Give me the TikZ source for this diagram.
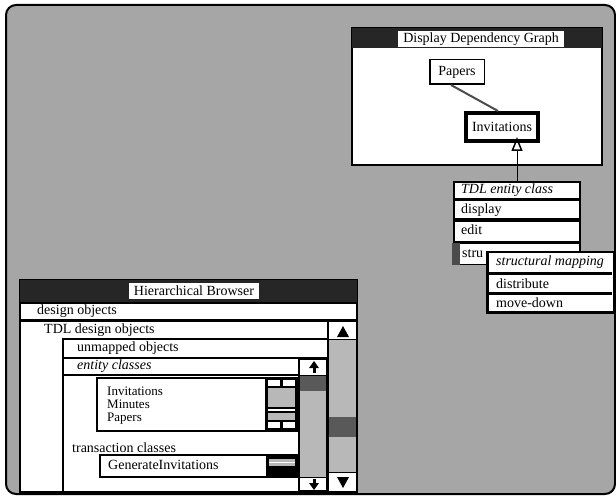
\documentclass[tikz,border=0pt]{standalone}
\usepackage{fontspec}
\setmainfont{Liberation Serif}
\usetikzlibrary{arrows.meta}
\begin{document}
\begin{tikzpicture}[x=1pt,y=-1pt,
  fnt/.style={font=\fontsize{14}{16}\selectfont},
  lbl/.style={fnt,anchor=west,inner sep=0pt},
  ilbl/.style={lbl,font=\fontsize{14}{16}\selectfont\itshape},
  slbl/.style={anchor=west,inner sep=0pt,font=\fontsize{13}{14}\selectfont,text height=8.5pt,text depth=2.5pt},
  frame/.style={draw=black,line width=2pt,fill=white},
  thin/.style={draw=black,line width=1.5pt,fill=white},
  bar/.style={fill=black!85},
  track/.style={fill=black!28},
  thumb/.style={fill=black!65},
  sep/.style={draw=black,line width=3.5pt},
  ttl/.style={fill=white,fnt,inner xsep=5pt,inner ysep=1pt,minimum height=16pt},
]
\useasboundingbox (0,0) rectangle (616,497);
\fill[white] (0,0) rectangle (616,497);
\draw[line width=2pt, fill=black!35, rounded corners=10pt] (6,5) rectangle (615,494);

% ---------- Dependency graph window ----------
\draw[frame] (352,28) rectangle (602,165);
\fill[bar] (352,28) rectangle (602,48);
\node[ttl] (ddgtitle) at (481,39.5) {Display Dependency Graph};
\node[draw,line width=1.5pt,fill=white,fnt,minimum width=54.5pt,minimum height=24.5pt,inner sep=2pt] (papers) at (457,72) {Papers};
\node[draw,line width=4pt,fill=white,fnt,minimum width=72pt,minimum height=28pt,inner sep=2pt] (inv) at (502,127) {Invitations};
\draw[line width=2pt,black!70] ([xshift=-6pt]papers.south) -- ([xshift=-4pt]inv.north);

% ---------- TDL entity class menu ----------
\node[frame,anchor=north west,minimum width=126pt,minimum height=60pt,inner sep=0pt] (tdlmenu) at (453,181) {};
\draw[sep] (453,199.5) -- (579,199.5);
\draw[sep] (453,220) -- (579,220);
\node[ilbl] (tdl) at (461,190) {TDL entity class};
\node[lbl] (disp) at (461,210) {display};
\node[lbl] (edit) at (461,230) {edit};
\draw[-{Triangle[open,length=14pt,width=11pt,line width=1.5pt]},line width=1pt,shorten >=-6pt] (tdlmenu.north) -- (tdlmenu.north |- inv.south);

\node[thin,anchor=north west,minimum width=127pt,minimum height=21pt,inner sep=0pt] (strurow) at (452,243) {};
\fill[black!70] (452,243) rectangle (460,265);
\node[lbl] (stru) at (462,254) {stru};

% ---------- submenu ----------
\node[draw=black,line width=2.5pt,fill=white,anchor=north west,minimum width=127pt,minimum height=60pt,inner sep=0pt] (sub) at (486,251) {};
\draw[sep] (486,273.5) -- (612,273.5);
\draw[sep] (486,293.5) -- (612,293.5);
\node[ilbl] (smap) at (496,262) {structural mapping};
\node[lbl] (distr) at (496,284) {distribute};
\node[lbl] (mdown) at (496,303) {move-down};

% ---------- Hierarchical browser ----------
\draw[frame] (20,280) rectangle (357,492);
\fill[bar] (20,280) rectangle (357,302);
\node[ttl] (hbtitle) at (194,291) {Hierarchical Browser};
\draw[thin] (20,303) rectangle (357,320);
\node[lbl] (dobj) at (37,311.5) {design objects};
\draw[thin] (20,321) rectangle (328,492);
\node[lbl] (tdlobj) at (44,330) {TDL design objects};
\draw[thin] (63,339) rectangle (328,492);
\draw[thin] (63,339) rectangle (328,358);
\node[lbl] (unm) at (77,348.5) {unmapped objects};
\draw[thin] (63,358) rectangle (299,375);
\node[ilbl] (ecl) at (77,366.5) {entity classes};

% entity list
\draw[line width=2pt,fill=white] (97,378) rectangle (298,431);
\node[slbl] (l1) at (107,392) {Invitations};
\node[slbl] (l2) at (107,405) {Minutes};
\node[slbl] (l3) at (107,418) {Papers};
\fill[black] (265,378) rectangle (298,431);
\fill[white] (268,380) rectangle (280,386);
\fill[white] (283,380) rectangle (295,386);
\fill[track] (268,388) rectangle (295,407);
\fill[white] (268,409) rectangle (295,411);
\fill[track] (268,413) rectangle (295,420);
\fill[white] (268,422) rectangle (280,428);
\fill[white] (283,422) rectangle (295,428);

\node[lbl] (trc) at (72,448) {transaction classes};
\draw[line width=2pt,fill=white] (100,455) rectangle (298,477);
\node[lbl] (gen) at (108,465) {GenerateInvitations};
\fill[black] (266,455) rectangle (298,477);
\fill[track] (269,459) rectangle (295,466);
\fill[white] (269,462) rectangle (295,463);

% entity scrollbar
\draw[thin] (299,359) rectangle (327,491);
\fill[thumb] (300,376) rectangle (326,391);
\fill[track] (300,391) rectangle (326,477);
\draw[line width=1.5pt] (299,375.5) -- (327,375.5);
\draw[line width=1.5pt] (299,477.5) -- (327,477.5);
\fill (314,361) -- (309,368) -- (319,368) -- cycle;
\fill (312.5,367) rectangle (315.5,373);
\fill (314,490) -- (309,483) -- (319,483) -- cycle;
\fill (312.5,479) rectangle (315.5,484);

% big scrollbar
\draw[thin] (328,321) rectangle (357,492);
\fill[track] (329,340) rectangle (356,417);
\fill[thumb] (329,417) rectangle (356,437);
\fill[track] (329,437) rectangle (356,472);
\draw[line width=1.5pt] (328,339.5) -- (357,339.5);
\draw[line width=1.5pt] (328,472.5) -- (357,472.5);
\fill (343,326) -- (337,337) -- (349,337) -- cycle;
\fill (343,488) -- (337,477) -- (349,477) -- cycle;
\end{tikzpicture}
\end{document}
